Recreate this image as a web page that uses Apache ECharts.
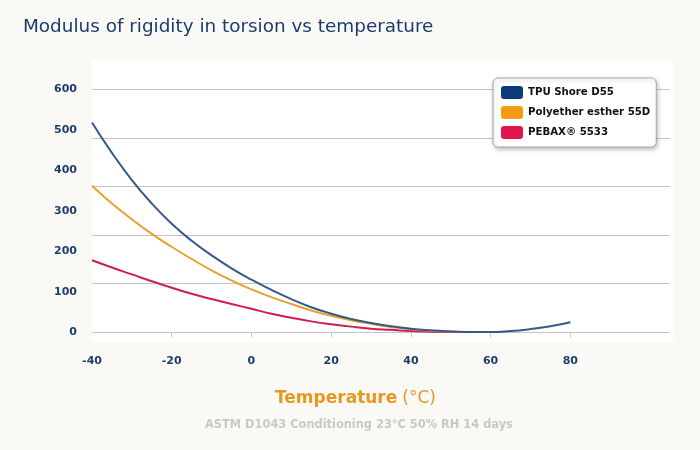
<!DOCTYPE html>
<html>
<head>
<meta charset="utf-8">
<script src="https://cdn.jsdelivr.net/npm/echarts@6/dist/echarts.min.js"></script>
<style>
html,body{margin:0;padding:0;background:#faf9f5;}
#chart{width:700px;height:450px;}
</style>
</head>
<body>
<div id="chart"></div>
<script>
// Temperature (°C)
var temps = [-40,-35,-30,-25,-20,-15,-10,-5,0,5,10,15,20,25,30,35,40,45,50,55,60,65,70,75,80];
// Modulus of rigidity in torsion (MPa)
var tpuShoreD55 = [518,443,376,318,268,226,190,158,130,105,82,62,46,33,23,15,9,5,2,0.5,0.5,3,8,15,25];
var polyether55D = [362,318,279,243,211,181,153,128,106,87,70,54,41,30,21,13,7.5,4,1.8,0.5];
var pebax5533 = [178,160,143,126,110,95,82,70,58,46,36,27,20,14,9,6,3,1.5,0.5,0];
var seriesNames = ['TPU Shore D55','Polyether esther 55D','PEBAX® 5533'];
var xTickLabels = [-40,-20,0,20,40,60,80];
var yTickLabels = [0,100,200,300,400,500,600];

function pairs(vals){ return vals.map(function(v,i){ return [temps[i], v]; }); }

var swatch = ['#0b3a78','#f39c12','#e2144f'];
var lineCol = ['#37598a','#e9a12e','#cf1d57'];
var txt = '#1b3d6d';

var chart = echarts.init(document.getElementById('chart'), null, {renderer:'canvas'});
chart.setOption({
  backgroundColor:'#faf9f5',
  animation:false,
  graphic:[{type:'rect', z:-10, shape:{x:92,y:60,width:581,height:282}, style:{fill:'#ffffff'}}],
  title:[
    {text:'Modulus of rigidity in torsion vs temperature', left:23, top:18, padding:0,
     textStyle:{fontFamily:'DejaVu Sans', fontSize:18.4, fontWeight:'normal', color:txt}},
    {text:'{a|Temperature} {b|(°C)}', left:275, top:390, padding:0,
     textStyle:{rich:{a:{fontFamily:'DejaVu Sans', fontSize:17, fontWeight:'bold', color:'#e8981e'},
                      b:{fontFamily:'DejaVu Sans', fontSize:17, fontWeight:'normal', color:'#e8981e'}}}},
    {text:'ASTM D1043 Conditioning 23°C 50% RH 14 days', left:205, top:420, padding:0,
     textStyle:{fontFamily:'DejaVu Sans', fontSize:11.4, fontWeight:'bold', color:'#c8c8c8'}}
  ],
  legend:{
    left:493, top:78, orient:'vertical', icon:'roundRect',
    itemWidth:22, itemHeight:13, itemGap:7,
    padding:[8,6,8,8],
    backgroundColor:'#ffffff', borderColor:'#a8a8a8', borderWidth:1, borderRadius:5,
    shadowBlur:4, shadowColor:'rgba(0,0,0,0.25)', shadowOffsetX:1, shadowOffsetY:2,
    textStyle:{fontFamily:'DejaVu Sans', fontSize:10.2, fontWeight:'bold', color:'#111111'},
    data:seriesNames.map(function(n,i){ return {name:n, itemStyle:{color:swatch[i]}}; })
  },
  grid:{left:92, right:30, top:89.3, bottom:117.7, containLabel:false},
  xAxis:{
    type:'value', min:-40, max:105,
    axisLine:{show:false},
    axisTick:{show:true, customValues:xTickLabels.slice(1), length:5, lineStyle:{color:'#c4c4c4'}},
    axisLabel:{customValues:xTickLabels, margin:23, fontFamily:'DejaVu Sans', fontSize:11, fontWeight:'bold', color:txt},
    splitLine:{show:false}
  },
  yAxis:[
    {type:'value', min:0, max:600, interval:100,
     axisLine:{show:false}, axisTick:{show:false}, splitLine:{show:false},
     axisLabel:{margin:15, fontFamily:'DejaVu Sans', fontSize:11, fontWeight:'bold', color:txt}},
    {type:'value', min:0, max:600, interval:120, position:'left',
     axisLine:{show:false}, axisTick:{show:false}, axisLabel:{show:false},
     splitLine:{show:true, lineStyle:{color:'#c4c4c4', width:1}}}
  ],
  series:[
    {name:seriesNames[0], type:'line', data:pairs(tpuShoreD55), smooth:true, showSymbol:false, symbol:'none',
     itemStyle:{color:swatch[0]}, lineStyle:{color:lineCol[0], width:2}, z:3},
    {name:seriesNames[1], type:'line', data:pairs(polyether55D), smooth:true, showSymbol:false, symbol:'none',
     itemStyle:{color:swatch[1]}, lineStyle:{color:lineCol[1], width:2}, z:2},
    {name:seriesNames[2], type:'line', data:pairs(pebax5533), smooth:true, showSymbol:false, symbol:'none',
     itemStyle:{color:swatch[2]}, lineStyle:{color:lineCol[2], width:2}, z:1}
  ]
});
</script>
</body>
</html>
